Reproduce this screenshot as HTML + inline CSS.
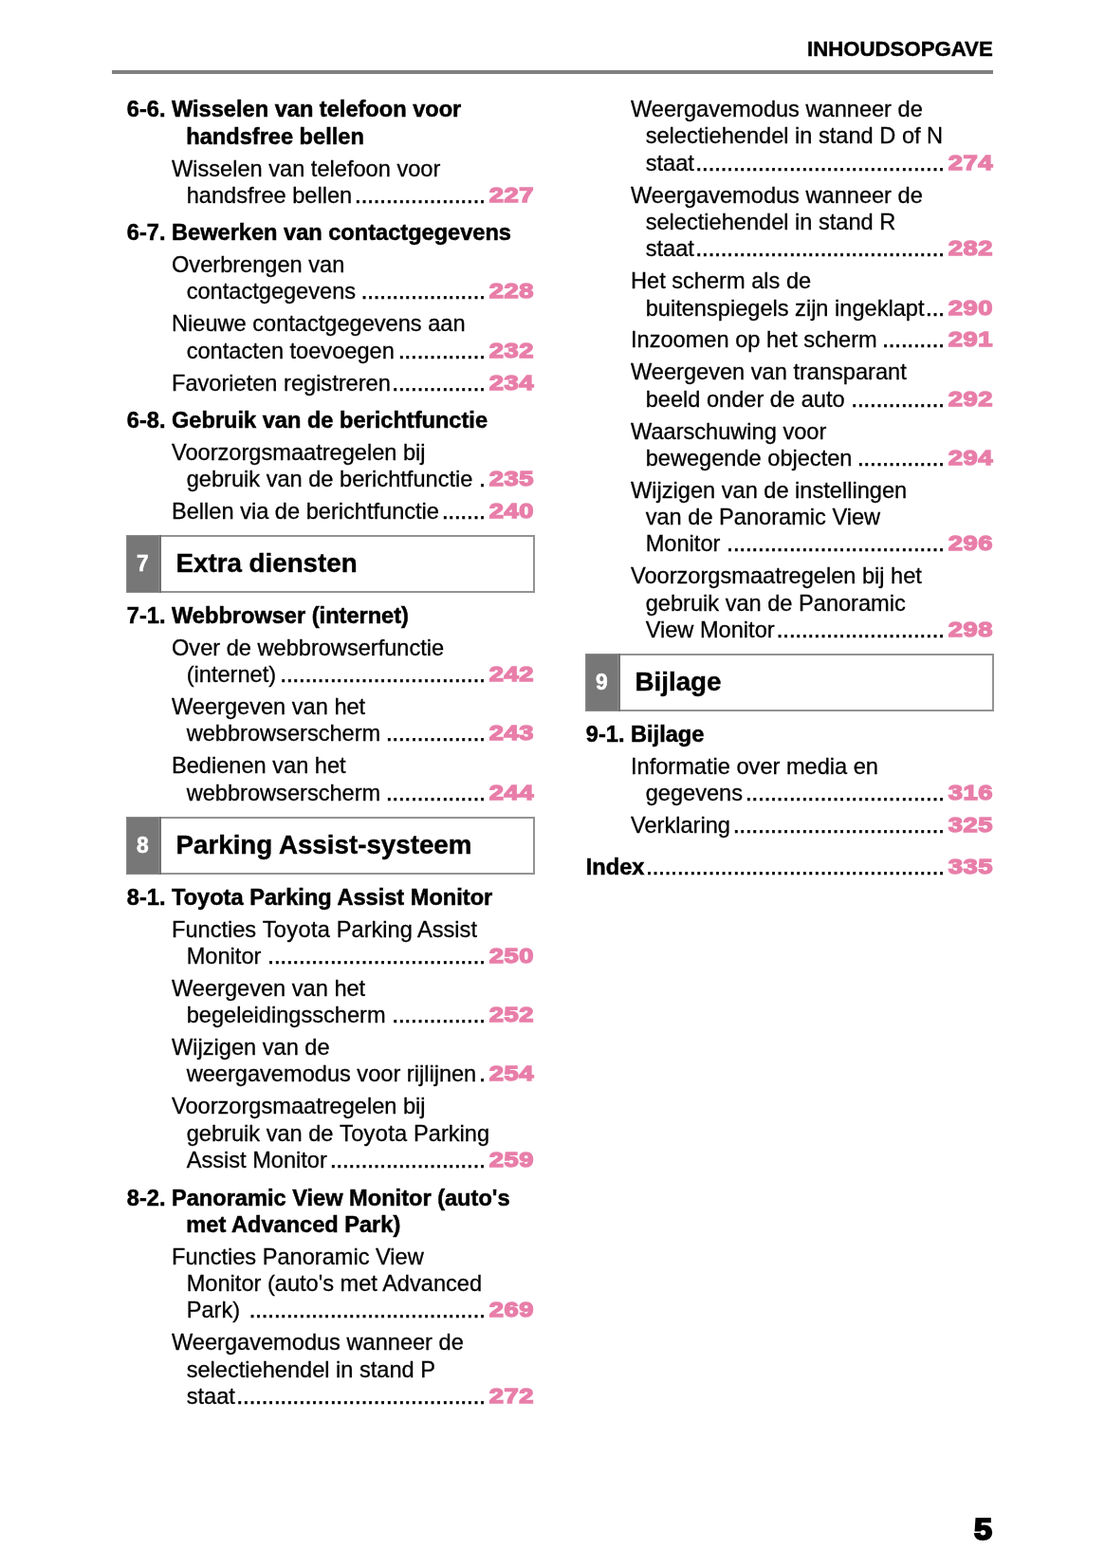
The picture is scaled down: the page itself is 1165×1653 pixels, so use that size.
<!DOCTYPE html><html lang="nl"><head><meta charset="utf-8"><title>Inhoudsopgave</title><style>
html,body{margin:0;padding:0;background:#fff;}
body{width:1165px;height:1653px;position:relative;overflow:hidden;font-family:"Liberation Sans",sans-serif;color:#000;}
.l{position:absolute;white-space:pre;font-size:23.6px;line-height:30px;height:30px;-webkit-text-stroke:0.3px #000;}
.ty{letter-spacing:0.33px;}
.b .ty{letter-spacing:0;}
.b{font-weight:bold;-webkit-text-stroke:0.5px #000;}
.d{position:absolute;white-space:pre;font-size:23.6px;line-height:30px;height:30px;text-align:right;font-weight:normal;-webkit-text-stroke:0.6px #000;}
.p{position:absolute;white-space:pre;font-weight:bold;font-size:22.7px;line-height:30px;height:30px;margin-top:-1px;color:#e87ea9;text-align:right;-webkit-text-stroke:1.4px #e87ea9;letter-spacing:0.45px;transform:scaleX(1.205);transform-origin:100% 50%;}
.hd{position:absolute;right:118.3px;top:38.3px;font-weight:bold;font-size:22.2px;line-height:28px;white-space:pre;-webkit-text-stroke:0.45px #000;}
.rule{position:absolute;left:118px;top:74.3px;width:929px;height:4px;background:#808080;}
.box{position:absolute;box-sizing:border-box;border:2px solid #939393;background:#fff;}
.bn{position:absolute;left:-2px;top:-2px;bottom:-2px;width:37px;box-sizing:border-box;background:#777;border-right:2px solid #6f6f6f;box-shadow:inset 0 0 0 1px #8b8b8b;-webkit-text-stroke:0.5px #fff;color:#fff;font-weight:bold;font-size:23.6px;text-align:center;}
.bn span{position:absolute;left:0.4px;right:0;text-align:center;line-height:24px;transform:scaleX(0.97);}
.bt{position:absolute;font-weight:bold;font-size:27.74px;line-height:34px;white-space:pre;-webkit-text-stroke:0.4px #000;}
.pg{position:absolute;font-weight:bold;font-size:32px;line-height:40px;-webkit-text-stroke:2.1px #000;white-space:pre;transform:scaleX(1.07);transform-origin:100% 50%;text-align:right;width:40px;}
</style></head><body>
<div class="hd">INHOUDSOPGAVE</div><div class="rule"></div>
<div class="l b" style="left:133.8px;top:100.0px">6-6. Wisselen van telefoon voor</div>
<div class="l b" style="left:196.3px;top:129.0px">handsfree bellen</div>
<div class="l" style="left:181.0px;top:163.0px">Wisselen van telefoon voor</div>
<div class="l" style="left:196.7px;top:191.0px">handsfree bellen</div>
<div class="d" style="left:354.02px;width:157.78px;top:191.0px">.....................</div>
<div class="p" style="left:482.8px;width:80px;top:191.0px">227</div>
<div class="l b" style="left:133.8px;top:230.0px">6-7. Bewerken van contactgegevens</div>
<div class="l" style="left:181.0px;top:264.0px">Overbrengen van</div>
<div class="l" style="left:196.7px;top:292.0px">contactgegevens</div>
<div class="d" style="left:360.58px;width:151.22px;top:292.0px">....................</div>
<div class="p" style="left:482.8px;width:80px;top:292.0px">228</div>
<div class="l" style="left:181.0px;top:326.0px">Nieuwe contactgegevens aan</div>
<div class="l" style="left:196.7px;top:355.0px">contacten toevoegen</div>
<div class="d" style="left:399.95px;width:111.85px;top:355.0px">..............</div>
<div class="p" style="left:482.8px;width:80px;top:355.0px">232</div>
<div class="l" style="left:181.0px;top:389.0px">Favorieten registreren</div>
<div class="d" style="left:393.39px;width:118.41px;top:389.0px">...............</div>
<div class="p" style="left:482.8px;width:80px;top:389.0px">234</div>
<div class="l b" style="left:133.8px;top:428.0px">6-8. Gebruik van de berichtfunctie</div>
<div class="l" style="left:181.0px;top:462.0px">Voorzorgsmaatregelen bij</div>
<div class="l" style="left:196.7px;top:490.0px">gebruik van de berichtfunctie</div>
<div class="d" style="left:485.24px;width:26.56px;top:490.0px">.</div>
<div class="p" style="left:482.8px;width:80px;top:490.0px">235</div>
<div class="l" style="left:181.0px;top:524.0px">Bellen via de berichtfunctie</div>
<div class="d" style="left:445.87px;width:65.93px;top:524.0px">.......</div>
<div class="p" style="left:482.8px;width:80px;top:524.0px">240</div>
<div class="box" style="left:133.0px;top:563.9px;width:431.0px;height:61.0px"><div class="bn"><span style="top:18.4px">7</span></div><div class="bt" style="left:50.5px;top:11.0px">Extra diensten</div></div>
<div class="l b" style="left:133.8px;top:634.0px">7-1. Webbrowser (internet)</div>
<div class="l" style="left:181.0px;top:668.0px">Over de webbrowserfunctie</div>
<div class="l" style="left:196.7px;top:696.0px">(internet)</div>
<div class="d" style="left:275.29px;width:236.51px;top:696.0px">.................................</div>
<div class="p" style="left:482.8px;width:80px;top:696.0px">242</div>
<div class="l" style="left:181.0px;top:730.0px">Weergeven van het</div>
<div class="l" style="left:196.7px;top:758.0px">webbrowserscherm</div>
<div class="d" style="left:386.83px;width:124.97px;top:758.0px">................</div>
<div class="p" style="left:482.8px;width:80px;top:758.0px">243</div>
<div class="l" style="left:181.0px;top:792.0px">Bedienen van het</div>
<div class="l" style="left:196.7px;top:821.0px">webbrowserscherm</div>
<div class="d" style="left:386.83px;width:124.97px;top:821.0px">................</div>
<div class="p" style="left:482.8px;width:80px;top:821.0px">244</div>
<div class="box" style="left:133.0px;top:860.6px;width:431.0px;height:61.0px"><div class="bn"><span style="top:18.4px">8</span></div><div class="bt" style="left:50.5px;top:11.0px">Parking Assist-systeem</div></div>
<div class="l b" style="left:133.8px;top:931.0px">8-1. <span class="ty">Toyota</span> Parking Assist Monitor</div>
<div class="l" style="left:181.0px;top:965.0px">Functies <span class="ty">Toyota</span> Parking Assist</div>
<div class="l" style="left:196.7px;top:993.0px">Monitor</div>
<div class="d" style="left:262.17px;width:249.63px;top:993.0px">...................................</div>
<div class="p" style="left:482.8px;width:80px;top:993.0px">250</div>
<div class="l" style="left:181.0px;top:1027.0px">Weergeven van het</div>
<div class="l" style="left:196.7px;top:1055.0px">begeleidingsscherm</div>
<div class="d" style="left:393.39px;width:118.41px;top:1055.0px">...............</div>
<div class="p" style="left:482.8px;width:80px;top:1055.0px">252</div>
<div class="l" style="left:181.0px;top:1089.0px">Wijzigen van de</div>
<div class="l" style="left:196.7px;top:1117.0px">weergavemodus voor rijlijnen</div>
<div class="d" style="left:485.24px;width:26.56px;top:1117.0px">.</div>
<div class="p" style="left:482.8px;width:80px;top:1117.0px">254</div>
<div class="l" style="left:181.0px;top:1151.0px">Voorzorgsmaatregelen bij</div>
<div class="l" style="left:196.7px;top:1180.0px">gebruik van de <span class="ty">Toyota</span> Parking</div>
<div class="l" style="left:196.7px;top:1208.0px">Assist Monitor</div>
<div class="d" style="left:327.78px;width:184.02px;top:1208.0px">.........................</div>
<div class="p" style="left:482.8px;width:80px;top:1208.0px">259</div>
<div class="l b" style="left:133.8px;top:1248.0px">8-2. Panoramic View Monitor (auto's</div>
<div class="l b" style="left:196.3px;top:1276.0px">met Advanced Park)</div>
<div class="l" style="left:181.0px;top:1310.0px">Functies Panoramic View</div>
<div class="l" style="left:196.7px;top:1338.0px">Monitor (auto's met Advanced</div>
<div class="l" style="left:196.7px;top:1366.0px">Park) </div>
<div class="d" style="left:242.49px;width:269.31px;top:1366.0px">......................................</div>
<div class="p" style="left:482.8px;width:80px;top:1366.0px">269</div>
<div class="l" style="left:181.0px;top:1400.0px">Weergavemodus wanneer de</div>
<div class="l" style="left:196.7px;top:1429.0px">selectiehendel in stand P</div>
<div class="l" style="left:196.7px;top:1457.0px">staat</div>
<div class="d" style="left:229.37px;width:282.43px;top:1457.0px">........................................</div>
<div class="p" style="left:482.8px;width:80px;top:1457.0px">272</div>
<div class="l" style="left:665.0px;top:100.0px">Weergavemodus wanneer de</div>
<div class="l" style="left:680.7px;top:128.0px">selectiehendel in stand D of N</div>
<div class="l" style="left:680.7px;top:157.0px">staat</div>
<div class="d" style="left:713.37px;width:282.43px;top:157.0px">........................................</div>
<div class="p" style="left:966.8px;width:80px;top:157.0px">274</div>
<div class="l" style="left:665.0px;top:191.0px">Weergavemodus wanneer de</div>
<div class="l" style="left:680.7px;top:219.0px">selectiehendel in stand R</div>
<div class="l" style="left:680.7px;top:247.0px">staat</div>
<div class="d" style="left:713.37px;width:282.43px;top:247.0px">........................................</div>
<div class="p" style="left:966.8px;width:80px;top:247.0px">282</div>
<div class="l" style="left:665.0px;top:281.0px">Het scherm als de</div>
<div class="l" style="left:680.7px;top:310.0px">buitenspiegels zijn ingeklapt</div>
<div class="d" style="left:956.12px;width:39.68px;top:310.0px">...</div>
<div class="p" style="left:966.8px;width:80px;top:310.0px">290</div>
<div class="l" style="left:665.0px;top:343.0px">Inzoomen op het scherm</div>
<div class="d" style="left:910.19px;width:85.61px;top:343.0px">..........</div>
<div class="p" style="left:966.8px;width:80px;top:343.0px">291</div>
<div class="l" style="left:665.0px;top:377.0px">Weergeven van transparant</div>
<div class="l" style="left:680.7px;top:406.0px">beeld onder de auto</div>
<div class="d" style="left:877.39px;width:118.41px;top:406.0px">...............</div>
<div class="p" style="left:966.8px;width:80px;top:406.0px">292</div>
<div class="l" style="left:665.0px;top:440.0px">Waarschuwing voor</div>
<div class="l" style="left:680.7px;top:468.0px">bewegende objecten</div>
<div class="d" style="left:883.95px;width:111.85px;top:468.0px">..............</div>
<div class="p" style="left:966.8px;width:80px;top:468.0px">294</div>
<div class="l" style="left:665.0px;top:502.0px">Wijzigen van de instellingen</div>
<div class="l" style="left:680.7px;top:530.0px">van de Panoramic View</div>
<div class="l" style="left:680.7px;top:558.0px">Monitor</div>
<div class="d" style="left:746.17px;width:249.63px;top:558.0px">...................................</div>
<div class="p" style="left:966.8px;width:80px;top:558.0px">296</div>
<div class="l" style="left:665.0px;top:592.0px">Voorzorgsmaatregelen bij het</div>
<div class="l" style="left:680.7px;top:621.0px">gebruik van de Panoramic</div>
<div class="l" style="left:680.7px;top:649.0px">View Monitor</div>
<div class="d" style="left:798.66px;width:197.14px;top:649.0px">...........................</div>
<div class="p" style="left:966.8px;width:80px;top:649.0px">298</div>
<div class="box" style="left:617.0px;top:689.0px;width:431.0px;height:61.0px"><div class="bn"><span style="top:18.4px">9</span></div><div class="bt" style="left:50.5px;top:11.0px">Bijlage</div></div>
<div class="l b" style="left:617.8px;top:759.0px">9-1. Bijlage</div>
<div class="l" style="left:665.0px;top:793.0px">Informatie over media en</div>
<div class="l" style="left:680.7px;top:821.0px">gegevens</div>
<div class="d" style="left:765.85px;width:229.95px;top:821.0px">................................</div>
<div class="p" style="left:966.8px;width:80px;top:821.0px">316</div>
<div class="l" style="left:665.0px;top:855.0px">Verklaring</div>
<div class="d" style="left:752.73px;width:243.07px;top:855.0px">..................................</div>
<div class="p" style="left:966.8px;width:80px;top:855.0px">325</div>
<div class="l b" style="left:617.8px;top:899.0px">Index</div>
<div class="d" style="left:660.88px;width:334.92px;top:899.0px">................................................</div>
<div class="p" style="left:966.8px;width:80px;top:899.0px">335</div>
<div class="pg" style="left:1006px;top:1592.4px">5</div>
</body></html>
